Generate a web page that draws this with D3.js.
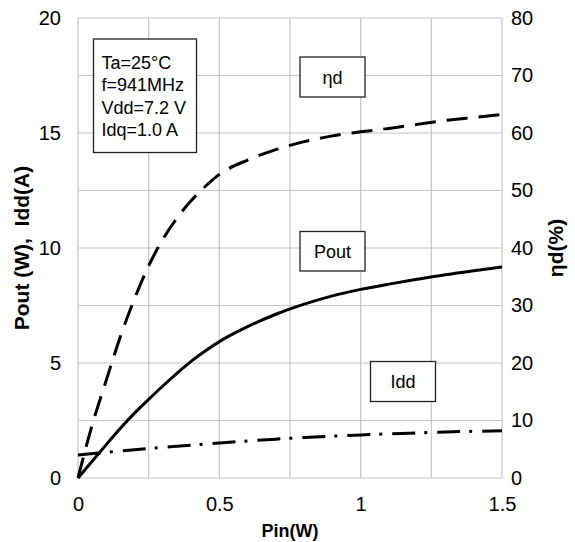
<!DOCTYPE html>
<html>
<head>
<meta charset="utf-8">
<script src="https://cdn.jsdelivr.net/npm/d3@7"></script>
<style>
  html, body { margin: 0; padding: 0; background: #fff; }
  svg { display: block; font-family: "Liberation Sans", Arial, sans-serif; }
</style>
</head>
<body>
<svg id="chart" width="575" height="542"></svg>
<script>
// ---- data ----
const pinEta = [0, 0.05, 0.1, 0.15, 0.2, 0.25, 0.3, 0.35, 0.4, 0.45, 0.5, 0.6, 0.7, 0.8, 0.9, 1.0, 1.1, 1.2, 1.3, 1.4, 1.5];
const etaD   = [0, 9.2, 17, 24.6, 31.2, 36.9, 41.5, 45.2, 48.2, 50.7, 52.8, 55.3, 57.1, 58.5, 59.5, 60.2, 60.8, 61.5, 62.2, 62.7, 63.2];

const pinPout = [0, 0.05, 0.1, 0.15, 0.2, 0.25, 0.3, 0.35, 0.4, 0.45, 0.5, 0.6, 0.7, 0.8, 0.9, 1.0, 1.1, 1.2, 1.3, 1.4, 1.5];
const pout    = [0, 0.73, 1.45, 2.16, 2.82, 3.42, 4.0, 4.55, 5.07, 5.52, 5.93, 6.58, 7.12, 7.56, 7.92, 8.2, 8.43, 8.64, 8.84, 9.01, 9.17];

const pinIdd = [0, 0.1, 0.2, 0.3, 0.4, 0.5, 0.6, 0.7, 0.8, 0.9, 1.0, 1.1, 1.2, 1.3, 1.4, 1.5];
const idd    = [1.0, 1.12, 1.23, 1.33, 1.43, 1.52, 1.61, 1.69, 1.76, 1.82, 1.87, 1.92, 1.96, 2.0, 2.03, 2.05];

const xTicks = [0, 0.5, 1, 1.5];
const xTickLabels = ["0", "0.5", "1", "1.5"];
const yLeftTicks = [0, 5, 10, 15, 20];
const yRightTicks = [0, 10, 20, 30, 40, 50, 60, 70, 80];
const conditions = ["Ta=25°C", "f=941MHz", "Vdd=7.2 V", "Idq=1.0 A"];

// ---- layout ----
const L = 78, R = 502, T = 18, B = 478;
const svg = d3.select("#chart");
const x = d3.scaleLinear().domain([0, 1.5]).range([L, R]);
const yL = d3.scaleLinear().domain([0, 20]).range([B, T]);
const yR = d3.scaleLinear().domain([0, 80]).range([B, T]);

// gridlines
const grid = svg.append("g").attr("stroke", "#c6c6c6").attr("stroke-width", 1.2);
d3.range(0, 1.5001, 0.25).forEach(v => {
  grid.append("line").attr("x1", x(v)).attr("x2", x(v)).attr("y1", T).attr("y2", B);
});
d3.range(0, 20.001, 2.5).forEach(v => {
  grid.append("line").attr("x1", L).attr("x2", R).attr("y1", yL(v)).attr("y2", yL(v));
});

// axes (labels only, no tick marks)
const axB = svg.append("g").attr("transform", `translate(0,${B})`)
  .call(d3.axisBottom(x).tickValues(xTicks).tickFormat((d, i) => xTickLabels[i]).tickSize(0).tickPadding(19));
const axL = svg.append("g").attr("transform", `translate(${L},0)`)
  .call(d3.axisLeft(yL).tickValues(yLeftTicks).tickSize(0).tickPadding(17));
const axR = svg.append("g").attr("transform", `translate(${R},0)`)
  .call(d3.axisRight(yR).tickValues(yRightTicks).tickSize(0).tickPadding(9));
[axB, axL, axR].forEach(a => {
  a.select(".domain").remove();
  a.selectAll("text").attr("font-size", 20).attr("fill", "#000")
    .attr("font-family", "Liberation Sans, Arial, sans-serif");
});

// lines
const lineL = (xs, ys) => d3.line().x((d, i) => x(xs[i])).y(d => yL(d)).curve(d3.curveMonotoneX)(ys);
const lineR = (xs, ys) => d3.line().x((d, i) => x(xs[i])).y(d => yR(d)).curve(d3.curveMonotoneX)(ys);

svg.append("path").attr("d", lineR(pinEta, etaD)).attr("fill", "none")
  .attr("stroke", "#000").attr("stroke-width", 3).attr("stroke-dasharray", "21,11");
svg.append("path").attr("d", lineL(pinPout, pout)).attr("fill", "none")
  .attr("stroke", "#000").attr("stroke-width", 3);
svg.append("path").attr("d", lineL(pinIdd, idd)).attr("fill", "none")
  .attr("stroke", "#000").attr("stroke-width", 3).attr("stroke-dasharray", "23,9,3,10");

// condition box
svg.append("rect").attr("x", 93.5).attr("y", 39).attr("width", 103).attr("height", 113.5)
  .attr("fill", "#fff").attr("stroke", "#222").attr("stroke-width", 1.3);
conditions.forEach((t, i) => {
  svg.append("text").attr("x", 101.5).attr("y", 69 + i * 22.3).attr("font-size", 18).text(t);
});

// series label boxes
function labelBox(cx, y0, w, h, txt) {
  svg.append("rect").attr("x", cx - w / 2).attr("y", y0).attr("width", w).attr("height", h)
    .attr("fill", "#fff").attr("stroke", "#222").attr("stroke-width", 1.3);
  svg.append("text").attr("x", cx).attr("y", y0 + h / 2 + 6.5).attr("text-anchor", "middle")
    .attr("font-size", 18).text(txt);
}
labelBox(332.5, 57, 65, 40, "ηd");
labelBox(332.5, 231.5, 65, 39.5, "Pout");
labelBox(403, 361.5, 65, 40, "Idd");

// axis titles
svg.append("text").attr("x", x(0.75)).attr("y", 537).attr("text-anchor", "middle")
  .attr("font-size", 18).attr("font-weight", "bold").text("Pin(W)");
svg.append("text").attr("transform", `translate(29,${(T + B) / 2}) rotate(-90)`).attr("text-anchor", "middle")
  .attr("font-size", 21).attr("font-weight", "bold").attr("xml:space", "preserve")
  .style("white-space", "pre").text("Pout (W),  Idd(A)");
svg.append("text").attr("transform", `translate(563,${(T + B) / 2}) rotate(-90)`).attr("text-anchor", "middle")
  .attr("font-size", 21).attr("font-weight", "bold").text("ηd(%)");
</script>
</body>
</html>
